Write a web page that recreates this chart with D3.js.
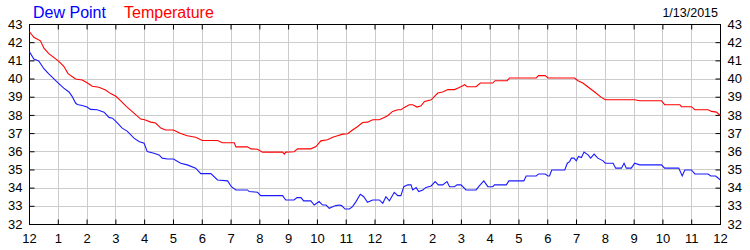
<!DOCTYPE html>
<html>
<head>
<meta charset="utf-8">
<script src="https://cdn.jsdelivr.net/npm/d3@7"></script>
<style>
  body { margin: 0; background: #fff; }
  svg text { font-family: "Liberation Sans", Arial, sans-serif; }
</style>
</head>
<body>
<div id="chart"></div>
<script>
// hours since midnight, degrees F
var temperature = [
  [0,42.6],[0.15,42.3],[0.38,42.1],[0.5,41.7],[0.67,41.4],[1.0,41.0],[1.19,40.7],[1.34,40.3],[1.6,40.0],[1.83,39.95],
  [2.0,39.8],[2.18,39.6],[2.41,39.55],[2.64,39.4],[2.82,39.2],[3.0,39.05],[3.17,38.8],[3.36,38.5],[3.63,38.13],[3.86,37.8],
  [4.0,37.76],[4.21,37.63],[4.38,37.58],[4.56,37.3],[4.73,37.2],[5.0,37.2],[5.25,37.0],[5.48,36.88],[5.77,36.8],[6.0,36.62],
  [6.53,36.62],[6.7,36.5],[7.11,36.5],[7.17,36.27],[7.57,36.27],[7.69,36.16],[7.92,36.14],[8.09,35.98],[8.79,35.98],[8.85,35.87],
  [8.9,35.98],[9.19,36.0],[9.31,36.16],[9.77,36.16],[9.95,36.29],[10.12,36.6],[10.35,36.66],[10.53,36.8],[10.7,36.88],[10.88,36.97],
  [11.05,36.99],[11.22,37.2],[11.4,37.39],[11.57,37.61],[11.74,37.63],[11.92,37.76],[12.15,37.76],[12.32,37.89],[12.44,37.98],[12.61,38.22],
  [12.79,38.31],[12.9,38.31],[13.02,38.44],[13.19,38.59],[13.31,38.59],[13.46,38.46],[13.6,38.53],[13.72,38.77],[13.95,38.86],[14.18,39.23],
  [14.35,39.29],[14.53,39.42],[14.76,39.42],[14.87,39.5],[15.05,39.63],[15.11,39.69],[15.2,39.58],[15.51,39.58],[15.66,39.78],[16.09,39.78],
  [16.17,39.91],[16.59,39.91],[16.67,40.06],[17.6,40.06],[17.68,40.19],[17.91,40.19],[18.01,40.06],[18.93,40.06],[19.05,39.91],[19.22,39.78],
  [19.4,39.56],[19.63,39.29],[19.86,38.99],[20.0,38.86],[21.02,38.86],[21.19,38.81],[21.95,38.81],[22.06,38.59],[22.59,38.59],[22.64,38.48],
  [22.99,38.48],[23.11,38.31],[23.57,38.31],[23.69,38.22],[23.86,38.18],[24.0,37.98]
];

var dewPoint = [
  [0,41.5],[0.15,41.1],[0.32,41.0],[0.5,40.57],[0.67,40.28],[1.0,39.78],[1.19,39.5],[1.37,39.29],[1.48,39.05],[1.6,38.68],
  [1.66,38.6],[1.83,38.55],[2.0,38.46],[2.12,38.33],[2.35,38.31],[2.59,38.18],[2.76,37.89],[2.88,37.85],[3.0,37.67],[3.22,37.3],
  [3.4,37.12],[3.63,36.75],[3.8,36.57],[3.98,36.47],[4.09,36.01],[4.32,35.92],[4.5,35.83],[4.61,35.65],[4.79,35.6],[5.0,35.6],
  [5.25,35.37],[5.48,35.28],[5.77,35.1],[5.95,34.8],[6.3,34.8],[6.53,34.45],[6.88,34.4],[7.01,34.08],[7.17,33.9],[7.57,33.9],
  [7.63,33.81],[7.92,33.77],[8.03,33.59],[8.79,33.59],[8.9,33.35],[9.19,33.35],[9.29,33.48],[9.43,33.48],[9.52,33.3],[9.77,33.3],
  [9.89,33.07],[10.06,33.26],[10.18,33.07],[10.3,33.07],[10.41,32.89],[10.53,32.98],[10.64,33.04],[10.76,33.07],[10.84,33.04],[10.96,32.85],
  [11.11,32.85],[11.22,32.98],[11.34,33.26],[11.49,33.66],[11.61,33.53],[11.74,33.22],[11.92,33.35],[12.15,33.35],[12.27,33.17],[12.38,33.53],
  [12.5,33.3],[12.67,33.77],[12.79,33.59],[12.9,33.59],[13.0,34.08],[13.14,34.18],[13.25,34.18],[13.31,33.9],[13.43,34.03],[13.52,33.81],
  [13.66,33.9],[13.77,34.04],[13.95,34.12],[14.09,34.36],[14.2,34.18],[14.35,34.18],[14.5,34.36],[14.59,34.08],[14.76,34.08],[14.85,34.18],
  [14.99,34.18],[15.16,33.9],[15.51,33.9],[15.63,34.14],[15.78,34.4],[15.92,34.08],[16.09,34.08],[16.15,34.18],[16.56,34.18],[16.65,34.4],
  [17.17,34.4],[17.25,34.67],[17.6,34.67],[17.68,34.78],[17.91,34.78],[18.01,34.67],[18.06,34.67],[18.14,35.0],[18.59,35.0],[18.68,35.37],
  [18.76,35.46],[18.82,35.65],[18.91,35.65],[18.99,35.5],[19.07,35.74],[19.17,35.68],[19.26,35.98],[19.4,35.83],[19.49,35.65],[19.61,35.87],
  [19.74,35.65],[19.92,35.5],[20.0,35.37],[20.27,35.37],[20.36,35.1],[20.56,35.1],[20.65,35.37],[20.73,35.1],[20.9,35.1],[21.02,35.37],
  [21.19,35.28],[21.95,35.28],[22.06,35.1],[22.55,35.1],[22.67,34.67],[22.76,35.0],[22.99,35.0],[23.11,34.78],[23.57,34.78],[23.66,34.67],
  [23.83,34.67],[24.0,34.45]
];

var hourLabels = ["12","1","2","3","4","5","6","7","8","9","10","11","12","1","2","3","4","5","6","7","8","9","10","11","12"];
var yTicks = [32,33,34,35,36,37,38,39,40,41,42,43];
var dateLabel = "1/13/2015";

var margin = {top: 24.5, right: 29.5, bottom: 25.5, left: 29.5},
    width = 750 - margin.left - margin.right,
    height = 250 - margin.top - margin.bottom;

var svg = d3.select("#chart").append("svg")
    .attr("width", 750)
    .attr("height", 250);

var g = svg.append("g")
    .attr("transform", "translate(" + margin.left + "," + margin.top + ")");

var x = d3.scaleLinear().domain([0, 24]).range([0, width]);
var y = d3.scaleLinear().domain([32, 43]).range([height, 0]);

// grid
g.append("g")
  .selectAll("line")
  .data(d3.range(1, 24))
  .enter().append("line")
    .attr("x1", function(d) { return Math.round(x(d)); })
    .attr("x2", function(d) { return Math.round(x(d)); })
    .attr("y1", 0).attr("y2", height)
    .attr("stroke", "#cccccc");
g.append("g")
  .selectAll("line")
  .data(yTicks.slice(1, -1))
  .enter().append("line")
    .attr("y1", function(d) { return Math.round(y(d)); })
    .attr("y2", function(d) { return Math.round(y(d)); })
    .attr("x1", 0).attr("x2", width)
    .attr("stroke", "#cccccc");

// axes, ticks pointing inside
var xAxisB = d3.axisBottom(x).tickValues(d3.range(0, 25)).tickSize(-5).tickPadding(9).offset(0)
    .tickFormat(function(d) { return hourLabels[d]; });
var xAxisT = d3.axisTop(x).tickValues(d3.range(0, 25)).tickSize(-5).offset(0).tickFormat("");
var yAxisL = d3.axisLeft(y).tickValues(yTicks).tickSize(-5).tickPadding(7).offset(0).tickFormat(d3.format("d"));
var yAxisR = d3.axisRight(y).tickValues(yTicks).tickSize(-5).tickPadding(7).offset(0).tickFormat(d3.format("d"));

function styleAxis(sel) {
  sel.select(".domain").remove();
  sel.selectAll("line").attr("stroke", "#000");
  sel.selectAll("text").attr("fill", "#000").style("font-size", "13px");
}

g.append("g").attr("transform", "translate(0," + height + ")").call(xAxisB).call(styleAxis);
g.append("g").call(xAxisT).call(styleAxis);
g.append("g").call(yAxisL).call(styleAxis);
g.append("g").attr("transform", "translate(" + width + ",0)").call(yAxisR).call(styleAxis);

// frame
g.append("rect")
  .attr("x", 0).attr("y", 0)
  .attr("width", width).attr("height", height)
  .attr("fill", "none")
  .attr("stroke", "#000")
  .attr("stroke-width", 1);

var line = d3.line()
  .x(function(d) { return x(d[0]); })
  .y(function(d) { return y(d[1]); });

g.append("path")
  .datum(dewPoint)
  .attr("d", line)
  .attr("fill", "none")
  .attr("stroke", "#1a1aff")
  .attr("stroke-width", 1.1);

g.append("path")
  .datum(temperature)
  .attr("d", line)
  .attr("fill", "none")
  .attr("stroke", "#ff0000")
  .attr("stroke-width", 1.1);

// titles
svg.append("text")
  .attr("x", 33).attr("y", 18)
  .attr("fill", "#0000ff")
  .style("font-size", "16px")
  .text("Dew Point");
svg.append("text")
  .attr("x", 124).attr("y", 18)
  .attr("fill", "#ff0000")
  .style("font-size", "16px")
  .text("Temperature");
svg.append("text")
  .attr("x", 718).attr("y", 17)
  .attr("text-anchor", "end")
  .attr("fill", "#000")
  .style("font-size", "12.5px")
  .text(dateLabel);
</script>
</body>
</html>
